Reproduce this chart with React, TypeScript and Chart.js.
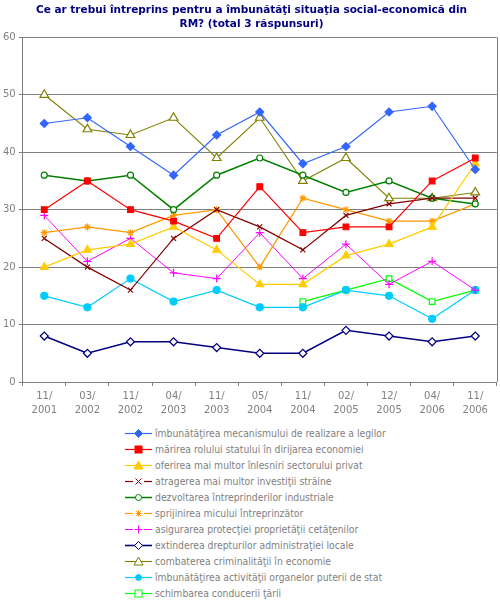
import { useEffect, useRef } from "react"
import Chart from "chart.js/auto"

// ── Data ─────────────────────────────────────────────────────
const TITLE = [
  "Ce ar trebui întreprins pentru a îmbunătăţi situaţia social-economică din",
  "RM? (total 3 răspunsuri)",
]

const PERIODS = [
  ["11/", "2001"], ["03/", "2002"], ["11/", "2002"], ["04/", "2003"],
  ["11/", "2003"], ["05/", "2004"], ["11/", "2004"], ["02/", "2005"],
  ["12/", "2005"], ["04/", "2006"], ["11/", "2006"],
]

const LEGI        = [45, 46, 41, 36, 43, 47, 38, 41, 47, 48, 37]
const ROL_STAT    = [30, 35, 30, 28, 25, 34, 26, 27, 27, 35, 39]
const INLESNIRI   = [20, 23, 24, 27, 23, 17, 17, 22, 24, 27, 38]
const INVESTITII  = [25, 20, 16, 25, 30, 27, 23, 29, 31, 32, 32]
const INDUSTRIE   = [36, 35, 36, 30, 36, 39, 36, 33, 35, 32, 31]
const MIC_BUSINES = [26, 27, 26, 29, 30, 20, 32, 30, 28, 28, 31]
const PROPRIETATE = [29, 21, 25, 19, 18, 26, 18, 24, 17, 21, 16]
const ADM_LOCALA  = [8, 5, 7, 7, 6, 5, 5, 9, 8, 7, 8]
const CRIMINALIT  = [50, 44, 43, 46, 39, 46, 35, 39, 32, 32, 33]
const ORGANE_STAT = [15, 13, 18, 14, 16, 13, 13, 16, 15, 11, 16]
const CONDUCERE   = [null, null, null, null, null, null, 14, 16, 18, 14, 16]

const Y_MIN  = 0
const Y_MAX  = 60
const Y_STEP = 10

// ── Styles ───────────────────────────────────────────────────
const GRAY  = "#808080"
const NAVY  = "#000080"
const FONT  = "'DejaVu Sans', Verdana, sans-serif"
const FONT_COND = "'DejaVu Sans Condensed', 'DejaVu Sans', sans-serif"

type Series = {
  label: string
  data: (number | null)[]
  color: string
  point: "rectRot" | "rect" | "triangle" | "crossRot" | "circle" | "star" | "cross"
  filled: boolean
  radius: number
  width: number
}

const SERIES: Series[] = [
  { label: "îmbunătăţirea mecanismului de realizare a legilor", data: LEGI,        color: "#3366FF", point: "rectRot",  filled: true,  radius: 4,   width: 1.2 },
  { label: "mărirea rolului statului în dirijarea economiei",   data: ROL_STAT,    color: "#FF0000", point: "rect",     filled: true,  radius: 4,   width: 1.2 },
  { label: "oferirea mai multor înlesniri sectorului privat",   data: INLESNIRI,   color: "#FFCC00", point: "triangle", filled: true,  radius: 4.5, width: 1.2 },
  { label: "atragerea mai multor investiţii străine",           data: INVESTITII,  color: "#800000", point: "crossRot", filled: false, radius: 3.5, width: 1.2 },
  { label: "dezvoltarea întreprinderilor industriale",          data: INDUSTRIE,   color: "#008000", point: "circle",   filled: false, radius: 3,   width: 1.5 },
  { label: "sprijinirea micului întreprinzător",                data: MIC_BUSINES, color: "#FF9900", point: "star",     filled: false, radius: 3.5, width: 1.2 },
  { label: "asigurarea protecţiei proprietăţii cetăţenilor",    data: PROPRIETATE, color: "#FF00FF", point: "cross",    filled: false, radius: 4,   width: 1 },
  { label: "extinderea drepturilor administraţiei locale",      data: ADM_LOCALA,  color: "#000080", point: "rectRot",  filled: false, radius: 4,   width: 1.6 },
  { label: "combaterea criminalităţii în economie",             data: CRIMINALIT,  color: "#808000", point: "triangle", filled: false, radius: 5,   width: 1.1 },
  { label: "îmbunătăţirea activităţii organelor puterii de stat", data: ORGANE_STAT, color: "#00CCFF", point: "circle", filled: true,  radius: 3.5, width: 1.2 },
  { label: "schimbarea conducerii ţării",                       data: CONDUCERE,   color: "#00FF00", point: "rect",     filled: false, radius: 4,   width: 1.2 },
]

// plot frame on the right-hand side
const frame = {
  id: "frame",
  afterDatasetsDraw(chart: Chart) {
    const { ctx, chartArea: a } = chart
    ctx.save()
    ctx.strokeStyle = GRAY
    ctx.lineWidth = 1
    ctx.beginPath()
    ctx.moveTo(Math.round(a.right) + 0.5, a.top)
    ctx.lineTo(Math.round(a.right) + 0.5, a.bottom)
    ctx.stroke()
    ctx.restore()
  },
}

function LineChart() {
  const ref = useRef<HTMLCanvasElement>(null)

  useEffect(() => {
    if (!ref.current) return

    const chart = new Chart(ref.current, {
      type: "line",
      data: {
        labels: PERIODS,
        datasets: SERIES.map(s => ({
          label: s.label,
          data: s.data,
          borderColor: s.color,
          borderWidth: s.width,
          backgroundColor: s.filled ? s.color : "#ffffff",
          pointBorderColor: s.color,
          pointBackgroundColor: s.filled ? s.color : "#ffffff",
          pointStyle: s.point,
          pointRadius: s.radius,
          pointBorderWidth: 1.2,
          tension: 0,
          spanGaps: false,
        })),
      },
      options: {
        animation: false,
        responsive: false,
        layout: { padding: { left: 0, right: 0, top: 0, bottom: 0 } },
        plugins: {
          legend: { display: false },
          tooltip: { enabled: false },
          title: {
            display: true,
            text: TITLE,
            color: NAVY,
            font: { family: FONT, size: 10.5, weight: "bold", lineHeight: 1.35 },
            padding: { top: 3, bottom: 6 },
          },
        },
        scales: {
          x: {
            offset: true,
            grid: { offset: true, drawOnChartArea: false, color: GRAY, tickLength: 4 },
            border: { color: GRAY },
            ticks: { color: GRAY, font: { family: FONT, size: 10, lineHeight: 1.45 }, maxRotation: 0, autoSkip: false, padding: 3 },
          },
          y: {
            min: Y_MIN,
            max: Y_MAX,
            grid: { color: GRAY, tickLength: 4 },
            border: { color: GRAY },
            ticks: { stepSize: Y_STEP, color: GRAY, font: { family: FONT, size: 10 }, padding: 3 },
          },
        },
      },
      plugins: [frame],
    })

    return () => chart.destroy()
  }, [])

  return <canvas ref={ref} width={503} height={421} style={{ position: "absolute", left: 0, top: 0 }} />
}

function Marker({ s }: { s: Series }) {
  const fill = s.filled ? s.color : "#ffffff"
  const c = 13.5
  let shape: React.ReactNode = null
  if (s.point === "rectRot") shape = <polygon points={`${c},4.5 ${c + 4},8.5 ${c},12.5 ${c - 4},8.5`} fill={fill} stroke={s.color} />
  else if (s.point === "rect") shape = <rect x={c - 3.5} y={5} width={7} height={7} fill={fill} stroke={s.color} />
  else if (s.point === "triangle") shape = <polygon points={`${c},4 ${c + 4.5},12 ${c - 4.5},12`} fill={fill} stroke={s.color} />
  else if (s.point === "circle") shape = <circle cx={c} cy={8.5} r={3} fill={fill} stroke={s.color} />
  else if (s.point === "crossRot") shape = <path d={`M${c - 3},5.5 L${c + 3},11.5 M${c + 3},5.5 L${c - 3},11.5`} stroke={s.color} />
  else if (s.point === "cross") shape = <path d={`M${c - 4},8.5 L${c + 4},8.5 M${c},4.5 L${c},12.5`} stroke={s.color} />
  else if (s.point === "star") shape = <path d={`M${c - 3},8.5 L${c + 3},8.5 M${c},5.5 L${c},11.5 M${c - 2.5},6 L${c + 2.5},11 M${c + 2.5},6 L${c - 2.5},11`} stroke={s.color} />
  const gap = s.point === "crossRot" || s.point === "cross" || s.point === "star"
  return (
    <svg width={28} height={17} style={{ display: "block" }}>
      {gap ? (
        <>
          <line x1={0} y1={8.5} x2={8} y2={8.5} stroke={s.color} strokeWidth={s.width} />
          <line x1={19} y1={8.5} x2={27} y2={8.5} stroke={s.color} strokeWidth={s.width} />
        </>
      ) : (
        <line x1={0} y1={8.5} x2={27} y2={8.5} stroke={s.color} strokeWidth={s.width} />
      )}
      {shape}
    </svg>
  )
}

function Legend() {
  return (
    <div style={{ position: "absolute", left: 125, top: 425, fontFamily: FONT_COND, fontSize: 10.3, color: GRAY }}>
      {SERIES.map(s => (
        <div key={s.label} style={{ display: "flex", alignItems: "center", height: 16, whiteSpace: "nowrap" }}>
          <Marker s={s} />
          <span style={{ marginLeft: 2 }}>{s.label}</span>
        </div>
      ))}
    </div>
  )
}

export default function App() {
  return (
    <div style={{ position: "fixed", left: 0, top: 0, width: 500, height: 600, background: "#ffffff", overflow: "hidden" }}>
      <LineChart />
      <Legend />
    </div>
  )
}
